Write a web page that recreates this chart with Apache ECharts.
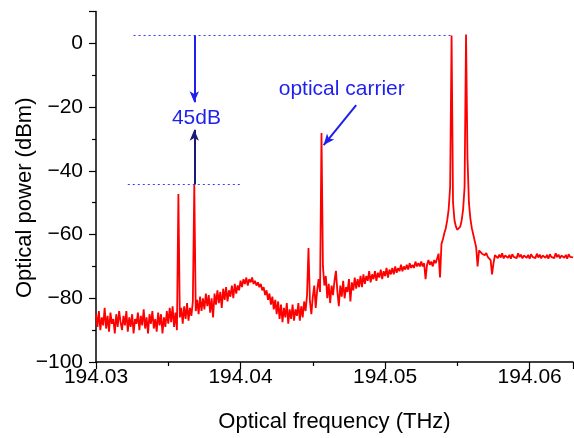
<!DOCTYPE html>
<html>
<head>
<meta charset="utf-8">
<script src="https://cdn.jsdelivr.net/npm/echarts@6/dist/echarts.min.js"></script>
<style>html,body{margin:0;padding:0;background:#fff}#c{width:574px;height:438px}</style>
</head>
<body>
<div id="c"></div>
<script>
// Spectrum sampled on a regular frequency grid (THz)
const freqStart = 194.03;
const freqStep = 0.0001;
// Optical power (dBm), one value per grid point
const power = [
  // 194.0300 - 194.0347
  -85, -89, -84, -90, -86, -88.5, -83, -89.5, -85.5, -90.5,
  -84.5, -88, -86.5, -91, -85, -89, -84, -87.5, -90, -85.5,
  -88.5, -84, -90.5, -86, -89, -85, -91, -86.5, -88, -84.5,
  -90, -85.5, -88.5, -83.5, -89.5, -86, -91, -85, -88, -84,
  -89.5, -86.5, -90.5, -84.5, -88.5, -85, -91, -86,
  // 194.0348 - 194.0369 (two weak sidebands)
  -89, -84, -88, -83, -87.5, -82.5, -89, -84.5, -90,
  -47.3,
  -86, -83, -88, -82.5, -86.5, -81.5, -87, -83, -85.5, -81,
  -44.3,
  -84,
  // 194.0370 - 194.0399
  -80.5, -85, -79.5, -84, -80, -83.5, -78.5, -82.5, -79, -84.5,
  -80, -86, -78.5, -82, -77.5, -81.5, -78, -83, -77, -80.5,
  -76.5, -81, -77.5, -79.5, -76, -80, -75.5, -78.5, -76, -77.5,
  // 194.0400 - 194.0414 (hump)
  -74.5, -76.5, -74, -75.5, -73.5, -76, -74, -75, -73.5, -75.5,
  -74.5, -76, -75, -76.5, -75.5,
  // 194.0415 - 194.0444
  -77.5, -76.5, -79, -77.5, -80.5, -78.5, -82, -79.5, -83.5, -80.5,
  -85, -81, -86.5, -82, -87.5, -83, -86, -81.5, -88, -83.5,
  -86.5, -82, -87, -83.5, -85.5, -81.5, -87, -82.5, -86, -81,
  // 194.0445 - 194.0458 (weak line and optical carrier)
  -84, -79, -64.2, -81, -85, -79.5, -76, -83, -77.5, -74, -78, -28.1, -70, -76,
  // 194.0459 - 194.0482
  -73, -80, -75.5, -81.5, -76, -79, -74.5, -71.4, -78, -82.5,
  -76, -79.5, -74.5, -80, -76.5, -78, -74, -81, -75, -77.5,
  -73.5, -77, -74, -76.5,
  // 194.0483 - 194.0524
  -73, -76.5, -72.5, -75.5, -73, -74.5, -71.5, -75, -72.5, -74,
  -71.5, -74.5, -72, -73.5, -71, -74, -71.5, -73, -70.5, -73.5,
  -71, -72.5, -70.5, -72.5, -70, -72, -70.5, -71.5, -69.5, -71.5,
  -70, -71, -69.5, -71, -69, -70.5, -69.5, -70.5, -68.5, -70, -69, -70,
  // 194.0525 - 194.0535
  -68.5, -70, -69, -74, -69.5, -68, -69.5, -68.5, -70, -68, -69,
  // 194.0536 - 194.0576 (two strong lines)
  -68.5, -66, -73.5, -63, -61.5, -59.5, -58, -55.5, -52, -45,
  2.5, -50, -55.5, -57.5, -58.5, -58.2, -57.5, -55.5, -52, -45,
  2.8, -36, -50, -55, -58, -60, -62, -64, -70, -65,
  -64.5, -66, -65.5, -66.5, -65.8, -67, -66.5, -68, -72.5, -69, -66.5,
  // 194.0577 - 194.0630
  -66, -67.4, -66.3, -67.2, -65.9, -67.5, -66.6, -66.1, -67.3, -66.4,
  -67.6, -66.2, -67, -66.5, -67.4, -65.9, -67.1, -66.3, -67.5, -66.6,
  -66, -67.3, -66.4, -67.6, -66.2, -67, -66.5, -67.4, -66, -67.2,
  -66.3, -67.5, -66.6, -66.1, -67.3, -66.4, -67.6, -66.2, -67, -66.5,
  -67.4, -65.9, -67.1, -66.3, -67.5, -66.6, -66, -67.3, -66.4, -67.6,
  -66.2, -67, -66.5, -67.2
];
// Axis ranges and ticks
const xRange = [194.03, 194.063];
const xInterval = 0.01;
const yRange = [-100, 10];
const yInterval = 20;
// Annotations (data coordinates)
const topLevel = 2.5;            // level of the two strongest lines
const sideLevel = -44.3;         // level of the weaker sideband
const topDash = [194.0326, 194.0546];
const sideDash = [194.0322, 194.0400];
const arrowFreq = 194.0368;
const arrowDownEnd = -18.5;
const arrowUpEnd = -27.1;
const carrierArrow = [[194.0480, -19.4], [194.04575, -31.9]];
const label45 = [194.03695, -23.4];
const labelCarrier = [194.0470, -14.5];

const data = power.map((v, i) => [freqStart + i * freqStep, v]);
const FONT = 'Liberation Sans, Arial, sans-serif';
const minus = v => (v < 0 ? '\u2212' + Math.abs(v) : String(v));

const chart = echarts.init(document.getElementById('c'));
chart.setOption({
  animation: false,
  backgroundColor: '#fff',
  grid: { left: 96, right: 1, top: 11.5, bottom: 69 },
  xAxis: {
    type: 'value', min: xRange[0], max: xRange[1], interval: xInterval,
    name: 'Optical frequency (THz)', nameLocation: 'middle', nameGap: 49, nameMoveOverlap: false,
    nameTextStyle: { fontFamily: FONT, fontSize: 22, color: '#000' },
    axisLine: { onZero: false, lineStyle: { color: '#000', width: 1.5 } },
    axisTick: { length: 7, lineStyle: { color: '#000', width: 1.2 } },
    minorTick: { show: true, splitNumber: 2, length: 4, lineStyle: { color: '#000', width: 1.2 } },
    splitLine: { show: false },
    axisLabel: { fontFamily: FONT, fontSize: 21, color: '#000', margin: 5, showMaxLabel: false,
      formatter: v => v.toFixed(2) }
  },
  yAxis: {
    type: 'value', min: yRange[0], max: yRange[1], interval: yInterval,
    name: 'Optical power (dBm)', nameLocation: 'middle', nameGap: 60, nameMoveOverlap: false,
    nameTextStyle: { fontFamily: FONT, fontSize: 22, color: '#000', padding: [0, 22, 0, 0] },
    axisLine: { show: true, onZero: false, lineStyle: { color: '#000', width: 1.5 } },
    axisTick: { length: 7, lineStyle: { color: '#000', width: 1.2 } },
    minorTick: { show: true, splitNumber: 2, length: 4, lineStyle: { color: '#000', width: 1.2 } },
    splitLine: { show: false },
    axisLabel: { fontFamily: FONT, fontSize: 21, color: '#000', margin: 13, showMaxLabel: false,
      formatter: v => minus(v) }
  },
  series: [{
    type: 'line', data: data, showSymbol: false, sampling: false,
    lineStyle: { color: '#ff0000', width: 1.8 }, itemStyle: { color: '#ff0000' },
    z: 3,
    markLine: {
      silent: true, symbol: 'none', label: { show: false },
      data: [
        [{ coord: [topDash[0], topLevel], lineStyle: { color: '#3b3bff', width: 1, type: [2, 3] } }, { coord: [topDash[1], topLevel] }],
        [{ coord: [sideDash[0], sideLevel], lineStyle: { color: '#3b3bff', width: 1, type: [2, 3] } }, { coord: [sideDash[1], sideLevel] }],
        [{ coord: [arrowFreq, topLevel], symbol: 'none', lineStyle: { color: '#1f1ff0', width: 2, type: 'solid' } },
         { coord: [arrowFreq, arrowDownEnd], symbol: 'arrow', symbolSize: [7, 11] }],
        [{ coord: [arrowFreq, sideLevel], symbol: 'none', lineStyle: { color: '#1a1a78', width: 2, type: 'solid' } },
         { coord: [arrowFreq, arrowUpEnd], symbol: 'arrow', symbolSize: [7, 11] }],
        [{ coord: carrierArrow[0], symbol: 'none', lineStyle: { color: '#1f1ff0', width: 2, type: 'solid' } },
         { coord: carrierArrow[1], symbol: 'arrow', symbolSize: [7, 11] }]
      ]
    },
    markPoint: {
      silent: true, symbol: 'circle', symbolSize: 1, itemStyle: { color: 'rgba(0,0,0,0)' },
      label: { show: true, position: 'inside', fontFamily: FONT, fontSize: 21, color: '#1f1ff0' },
      data: [
        { coord: label45, value: '45dB', label: { formatter: '45dB' } },
        { coord: labelCarrier, value: 'optical carrier', label: { formatter: 'optical carrier' } }
      ]
    }
  }]
});
</script>
</body>
</html>
